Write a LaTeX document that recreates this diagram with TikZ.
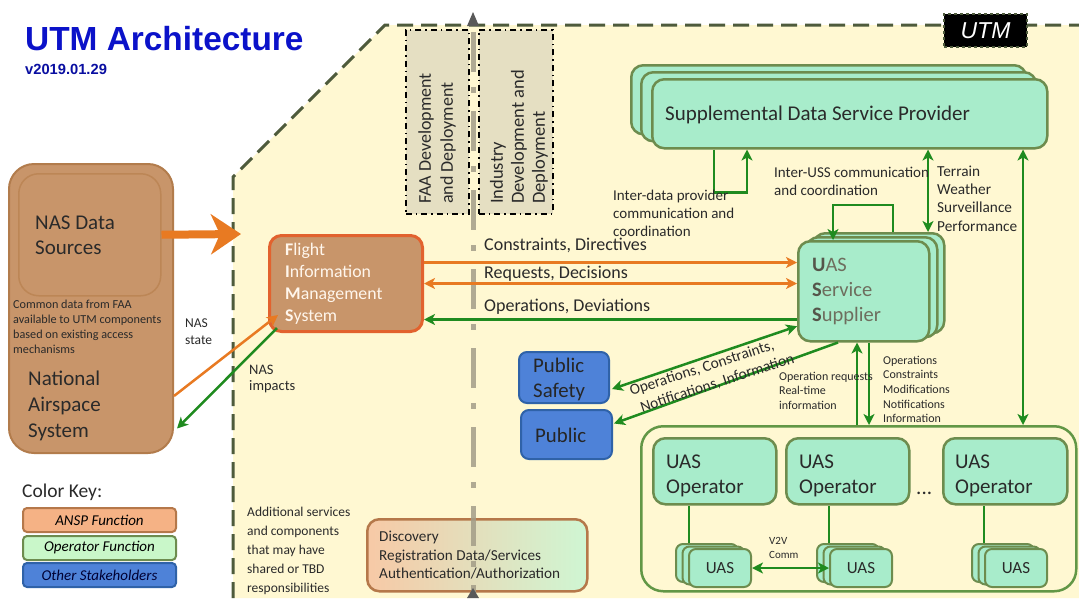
\documentclass[tikz,border=0pt]{standalone}
\usepackage{fontspec}
\setmainfont{Carlito}
\newfontfamily\arialf{Liberation Sans}
\usetikzlibrary{arrows.meta,calc}
\definecolor{utmyellow}{HTML}{FFF8D2}
\definecolor{utmdash}{HTML}{4E5B3C}
\definecolor{titleblue}{HTML}{0B12C9}
\definecolor{nasbrown}{HTML}{C8956A}
\definecolor{nasborder}{HTML}{B27C4C}
\definecolor{nasinnerb}{HTML}{BC8656}
\definecolor{fimsorange}{HTML}{E2622E}
\definecolor{fimstext}{HTML}{FFF6EC}
\definecolor{arrorange}{HTML}{E87A22}
\definecolor{agreen}{HTML}{1F8B1F}
\definecolor{mint}{HTML}{A8ECCB}
\definecolor{mintborder}{HTML}{6D8C4E}
\definecolor{pubblue}{HTML}{4E82D8}
\definecolor{pubborder}{HTML}{2F62A8}
\definecolor{beige}{HTML}{E5DFC2}
\definecolor{grayln}{HTML}{A39D88}
\definecolor{ansp}{HTML}{F5B285}
\definecolor{anspb}{HTML}{B5784A}
\definecolor{opfn}{HTML}{C9F7C9}
\definecolor{usstext}{HTML}{6E6E5E}
\definecolor{ussbold}{HTML}{55554A}
\definecolor{disleft}{HTML}{F7C9A6}
\definecolor{disright}{HTML}{CFF6D3}
\definecolor{txtdark}{HTML}{2A2A2A}
\newcommand{\fsz}[2]{\fontsize{#1}{#2}\selectfont}
\tikzset{
  gtip/.tip={Stealth[length=11pt,width=11pt,inset=3pt]},
  garrow/.style={draw=agreen, line width=2.5pt, -gtip},
  gdbl/.style={draw=agreen, line width=2.5pt, gtip-gtip},
  gline/.style={draw=agreen, line width=2.5pt},
  oarrow/.style={draw=arrorange, line width=2.5pt, -gtip},
  odbl/.style={draw=arrorange, line width=2.5pt, gtip-gtip},
  txt/.style={inner sep=0pt, anchor=north west, align=left, text=txtdark},
  blbl/.style={inner sep=0pt, anchor=base west, text=txtdark},
  mintbox/.style={fill=mint, draw=mintborder, line width=2.5pt, rounded corners=12pt, anchor=north west},
  uasbox/.style={fill=mint, draw=mintborder, line width=2pt, rounded corners=7pt, anchor=north west, minimum width=62pt, minimum height=38pt},
  pubbox/.style={fill=pubblue, draw=pubborder, line width=2pt, rounded corners=8pt, anchor=north west},
  devbox/.style={fill=beige, draw=black, line width=1.8pt, dash pattern=on 6pt off 4pt on 1.5pt off 4pt, anchor=north west},
  keybox/.style={line width=2pt, rounded corners=4pt, anchor=north west, minimum width=153pt, minimum height=24pt, font=\itshape\fsz{15}{17}}
}
\begin{document}
\begin{tikzpicture}[x=1pt,y=-1pt]
\useasboundingbox (0,0) rectangle (1079,598);
\fill[white] (0,0) rectangle (1079,598);
% UTM region
\fill[utmyellow] (233,598) -- (233,177) -- (385,25) -- (1079,25) -- (1079,598) -- cycle;
\draw[utmdash, line width=3pt, dash pattern=on 16pt off 8pt] (233,598) -- (233,177) -- (385,25) -- (1079,25);
\node[fill=black, draw=utmdash, dashed, line width=2pt, minimum width=83pt, minimum height=33pt, anchor=north west, text=white, font=\arialf\itshape\fsz{23}{23}] (utmlabel) at (943,13) {UTM};
% title
\node[inner sep=0pt, anchor=base west, text=titleblue, font=\arialf\bfseries\fsz{33.4}{36}] (title) at (25,50) {UTM Architecture};
\node[inner sep=0pt, anchor=base west, text=titleblue!80!black, font=\arialf\bfseries\fsz{14.7}{16}] (version) at (25,74) {v2019.01.29};
% development boxes
\node[devbox, minimum width=63pt, minimum height=184pt] (faabox) at (405,29) {};
\node[devbox, minimum width=74pt, minimum height=184pt] (indbox) at (478,29) {};
\node[rotate=90, anchor=west, align=left, inner sep=0pt, text=txtdark, font=\fsz{18}{22}] (faatext) at (437,204) {FAA Development\\and Deployment};
\node[rotate=90, anchor=west, align=left, inner sep=0pt, text=txtdark, font=\fsz{18.5}{21}] (indtext) at (519,204) {Industry\\Development and\\Deployment};
% NAS
\node[fill=nasbrown, draw=nasborder, line width=2pt, rounded corners=25pt, minimum width=164pt, minimum height=289pt, anchor=north west] (nas) at (8,163) {};
\node[fill=nasbrown, draw=nasinnerb, line width=1.5pt, rounded corners=20pt, minimum width=142pt, minimum height=122pt, anchor=north west] (nasdata) at (18,173) {};
\node[txt, font=\fsz{21}{25}] (nasdatatxt) at (35,215.5) {NAS Data\\Sources};
\node[txt, font=\fsz{12.2}{15}] (commontxt) at (13,299.7) {Common data from FAA\\available to UTM components\\based on existing access\\mechanisms};
\node[txt, font=\fsz{21}{26}] (nastxt) at (28,370.7) {National\\Airspace\\System};
% FIMS
\node[fill=nasbrown, draw=fimsorange, line width=3pt, rounded corners=12pt, minimum width=153pt, minimum height=96pt, anchor=north west] (fims) at (268,234) {};
\node[txt, text=fimstext, font=\fsz{17.8}{22}] (fimstxt) at (285,242.9) {\textbf{F}light\\\textbf{I}nformation\\\textbf{M}anagement\\\textbf{S}ystem};
% SDSP stack
\node[mintbox, minimum width=395pt, minimum height=69pt] (sdspc) at (630,64) {};
\node[mintbox, minimum width=395pt, minimum height=69pt] (sdspb) at (640,71) {};
\node[mintbox, minimum width=395pt, minimum height=69pt] (sdsp) at (651,78) {};
\node[blbl, font=\fsz{21}{24}] (sdsptxt) at (665,120) {Supplemental Data Service Provider};
% USS stack
\node[mintbox, minimum width=131pt, minimum height=100pt] (ussc) at (812,232) {};
\node[mintbox, minimum width=131pt, minimum height=100pt] (ussb) at (805,236) {};
\node[mintbox, minimum width=131pt, minimum height=100pt] (uss) at (797,240) {};
\node[txt, text=usstext, font=\fsz{20.5}{25}] (usstxt) at (812,258) {\textcolor{ussbold}{\textbf{U}}AS\\\textcolor{ussbold}{\textbf{S}}ervice\\\textcolor{ussbold}{\textbf{S}}upplier};
% Public
\node[pubbox, minimum width=90pt, minimum height=51pt] (pubsafe) at (518,351) {};
\node[txt, text=black!85, font=\fsz{20.8}{25}] (pubsafetxt) at (533,357.9) {Public\\Safety};
\node[pubbox, minimum width=91pt, minimum height=49pt] (pub) at (520,409) {};
\node[blbl, text=black!85, font=\fsz{20.8}{25}] (pubtxt) at (535,442) {Public};
% operator container
\node[fill=utmyellow, draw=mintborder!90!green, line width=2.5pt, rounded corners=22pt, minimum width=435pt, minimum height=165pt, anchor=north west] (opc) at (640,425) {};
\node[mintbox, minimum width=123pt, minimum height=66pt] (op1) at (652,437) {};
\node[mintbox, minimum width=123pt, minimum height=66pt] (op2) at (785,437) {};
\node[mintbox, minimum width=124pt, minimum height=66pt] (op3) at (942,437) {};
\node[txt, font=\fsz{21}{25}] (op1txt) at (666,454.7) {UAS\\Operator};
\node[txt, font=\fsz{21}{25}] (op2txt) at (799,454.7) {UAS\\Operator};
\node[txt, font=\fsz{21}{25}] (op3txt) at (955,454.7) {UAS\\Operator};
\node[blbl, font=\fsz{21}{25}] (dots) at (916,494) {...};
% operator to UAS lines
\coordinate (l1) at (689,548);
\coordinate (l2) at (829,548);
\coordinate (l3) at (984,548);
\draw[gline] (l1) -- (l1 |- op1.south);
\draw[gline] (l2) -- (l2 |- op2.south);
\draw[gline] (l3) -- (l3 |- op3.south);
% UAS stacks
\node[uasbox] (ua3) at (675,543) {};
\node[uasbox] (ua2) at (681.5,545.5) {};
\node[uasbox, font=\fsz{17}{18}, text=txtdark] (ua1) at (688,548) {UAS};
\node[uasbox] (ub3) at (816,543) {};
\node[uasbox] (ub2) at (822.5,545.5) {};
\node[uasbox, font=\fsz{17}{18}, text=txtdark] (ub1) at (829,548) {UAS};
\node[uasbox] (uc3) at (971,543) {};
\node[uasbox] (uc2) at (977.5,545.5) {};
\node[uasbox, font=\fsz{17}{18}, text=txtdark] (uc1) at (984,548) {UAS};
\draw[gdbl] (ua1.east) -- (ub1.west);
\node[txt, font=\fsz{11}{14}] (v2v) at (769,537.5) {V2V\\Comm};
% discovery
\node[draw=anspb, line width=2.5pt, rounded corners=12pt, left color=disleft, right color=disright, minimum width=220pt, minimum height=72pt, anchor=north west] (disc) at (366,518) {};
\node[txt, font=\fsz{15.2}{18.7}] (disctxt) at (379,530.7) {Discovery\\Registration Data/Services\\Authentication/Authorization};
\node[txt, font=\fsz{13.5}{19}] (addtxt) at (247,506.5) {Additional services\\and components\\that may have\\shared or TBD\\responsibilities};
% gray divider
\draw[grayln, opacity=0.85, line width=5pt, dash pattern=on 40pt off 15pt on 6pt off 18pt] (473,32) -- (473,598);
\fill[black!65] (467,26) -- (473,12) -- (479,26) -- cycle;
\fill[black!65] (467,598) -- (473,588) -- (479,598) -- cycle;
% thick orange arrow
\coordinate (utmedge) at (241,234);
\draw[arrorange, line width=8pt, -{Stealth[length=30pt,width=40pt,inset=9pt]}] (nasdata.east) -- (utmedge);
% NAS <-> FIMS
\draw[oarrow] ($(nas.east)+(0,87.5)$) -- ($(fims.south west)+(10,-18)$);
\draw[garrow] ($(fims.south west)+(9,-5)$) -- ($(nas.east)+(3,120)$);
\node[txt, font=\fsz{13.5}{17}] (nasstate) at (185,319) {NAS\\state};
\node[txt, font=\fsz{14.5}{15.5}] (nasimp) at (249,365) {NAS\\impacts};
% FIMS <-> USS
\draw[oarrow] ($(fims.east)+(0,-21)$) -- ($(fims.east -| uss.west)+(0,-21)$);
\draw[odbl] (fims.east) -- (fims.east -| uss.west);
\draw[garrow] ($(fims.east -| uss.west)+(0,36)$) -- ($(fims.east)+(0,36)$);
\node[blbl, font=\fsz{18}{20}] (cdlbl) at (484,250) {Constraints, Directives};
\node[blbl, font=\fsz{18}{20}] (rdlbl) at (484,278) {Requests, Decisions};
\node[blbl, font=\fsz{18}{20}] (odlbl) at (484,311) {Operations, Deviations};
% SDSP loops
\coordinate (dA) at ($(sdsp.south west)+(63,0)$);
\coordinate (dB) at ($(sdsp.south west)+(96,0)$);
\draw[garrow] (dA) -- ++(0,43) -- ($(dB)+(0,43)$) -- (dB);
\node[txt, font=\fsz{15}{18}] (interdata) at (613,189.8) {Inter-data provider\\communication and\\coordination};
\coordinate (tA) at ($(sdsp.south west)+(277,0)$);
\draw[gdbl] (tA) -- (tA |- ussc.north);
\node[txt, font=\fsz{15.3}{18.3}] (terrain) at (937,165.6) {Terrain\\Weather\\Surveillance\\Performance};
\coordinate (rA) at ($(sdsp.south west)+(372,0)$);
\draw[gdbl] (rA) -- (rA |- opc.north);
% USS loop
\coordinate (uA) at ($(ussc.north west)+(81,0)$);
\coordinate (uB) at ($(uss.north west)+(36,0)$);
\draw[garrow] (uA) -- ++(0,-27) -- ($(uB)+(0,-35)$) -- (uB);
\node[txt, font=\fsz{15}{18}] (interuss) at (774,166.8) {Inter-USS communication\\and coordination};
% USS <-> public
\draw[gdbl] ($(pubsafe.east)+(2,11.5)$) -- ($(uss.west)+(0,35)$);
\draw[garrow] ($(uss.south west)+(41,0)$) -- ($(pub.east)+(1,-11)$);
\node[rotate=18, align=left, inner sep=0pt, text=txtdark, font=\fsz{15.4}{19}] (pslbl) at (712,375) {Operations, Constraints,\\\hspace*{5pt}Notifications, Information};
% USS <-> operators
\coordinate (vA) at ($(uss.south west)+(60,0)$);
\coordinate (vB) at ($(uss.south west)+(72,0)$);
\draw[garrow] (vA |- opc.north) -- (vA);
\draw[garrow] (vB) -- (vB |- opc.north);
\node[txt, font=\fsz{12}{14.5}] (opreq) at (779,371.8) {Operation requests\\Real-time\\information};
\node[txt, font=\fsz{12}{14.6}] (oplist) at (883,355.8) {Operations\\Constraints\\Modifications\\Notifications\\Information};
% color key
\node[blbl, font=\fsz{19.5}{22}] (keytitle) at (22,497) {Color Key:};
\node[keybox, fill=ansp, draw=anspb] (keyansp) at (22,507) {ANSP Function};
\node[keybox, fill=opfn, draw=mintborder] (keyop) at (22,535) {Operator Function};
\node[keybox, fill=pubblue, draw=pubborder, text=black!80!blue] (keyother) at (22,562) {Other Stakeholders};
\end{tikzpicture}
\end{document}
